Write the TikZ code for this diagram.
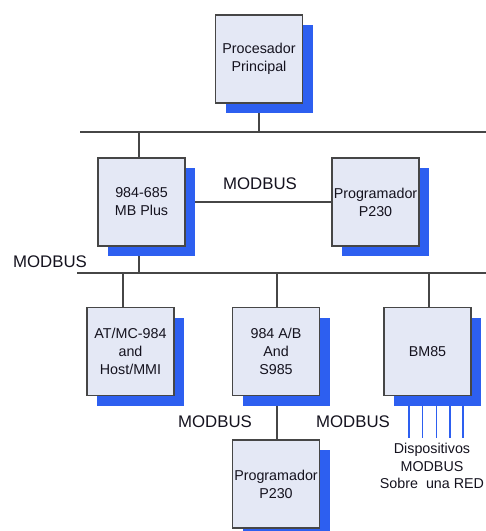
\documentclass[tikz,border=0pt]{standalone}
\usepackage{fontspec}
\setmainfont{Liberation Sans}
\usetikzlibrary{shadows}
\usetikzlibrary{backgrounds}
\definecolor{boxfill}{RGB}{228,232,245}
\definecolor{shadowblue}{RGB}{45,95,240}
\definecolor{linegray}{RGB}{70,70,70}
\definecolor{textdark}{RGB}{20,18,30}
\begin{document}
\begin{tikzpicture}[x=1pt, y=-1pt,
    box/.style = {draw=linegray, line width=1.2pt, fill=boxfill, text=textdark,
        minimum width=87pt, minimum height=88pt, inner sep=1pt, align=center,
        font=\fontsize{14.3}{18}\selectfont,
        drop shadow={shadow xshift=10pt, shadow yshift=-10pt, fill=shadowblue, opacity=1}},
    bus/.style = {draw=linegray, line width=1.4pt},
    lbl/.style = {text=textdark, font=\fontsize{16.8}{18}\selectfont},
    dev/.style = {draw=shadowblue, line width=1.2pt}]
    \useasboundingbox (0,0) rectangle (486,531);
    \node[box] (proc) at (259,59) {Procesador\\Principal};
    \node[box] (mb) at (141.5,202) {984-685\\MB Plus};
    \node[box] (prog1) at (375.5,202) {Programador\\P230};
    \node[box] (atmc) at (130.5,351.5) {AT/MC-984\\and\\Host/MMI};
    \node[box] (ab) at (276,351.5) {984 A/B\\And\\S985};
    \node[box] (bm) at (427.5,351.5) {BM85};
    \node[box] (prog2) at (276,484) {Programador\\P230};
    \coordinate (bus1a) at (80,132);
    \coordinate (bus1b) at (486,132);
    \coordinate (bus2a) at (77,273);
    \coordinate (bus2b) at (486,273);
    \node[lbl] (mb-lbl) at (260,184) {MODBUS};
    \node[lbl] (bus2-lbl) at (50,262) {MODBUS};
    \node[lbl] (ab-lbl) at (215,422) {MODBUS};
    \node[lbl] (bm-lbl) at (353,422) {MODBUS};
    \node[text=textdark, align=center, font=\fontsize{14.3}{17.5}\selectfont] (devs) at (432,466)
        {Dispositivos\\MODBUS\\Sobre\ \ una RED};
    \begin{scope}[on background layer]
        \draw[bus] (bus1a) -- (bus1b);
        \draw[bus] (bus2a) -- (bus2b);
        \draw[bus] (proc.south) -- (proc.south |- bus1a);
        \draw[bus] ([xshift=-2.5pt]mb.north) -- ([xshift=-2.5pt]mb.north |- bus1a);
        \draw[bus] ([xshift=-2.5pt]mb.south) -- ([xshift=-2.5pt]mb.south |- bus2a);
        \draw[bus] (mb.east) -- (prog1.west);
        \draw[bus] ([xshift=-7.5pt]atmc.north) -- ([xshift=-7.5pt]atmc.north |- bus2a);
        \draw[bus] ([xshift=1pt]ab.north) -- ([xshift=1pt]ab.north |- bus2a);
        \draw[bus] ([xshift=1.5pt]bm.north) -- ([xshift=1.5pt]bm.north |- bus2a);
        \draw[bus] ([xshift=1pt]ab.south) -- ([xshift=1pt]prog2.north);
        \foreach \dx in {-18.5,-5,9,22.5,35.5}
            \draw[dev] ([xshift=\dx pt]bm.south) -- ++(0,42);
    \end{scope}
\end{tikzpicture}
\end{document}
